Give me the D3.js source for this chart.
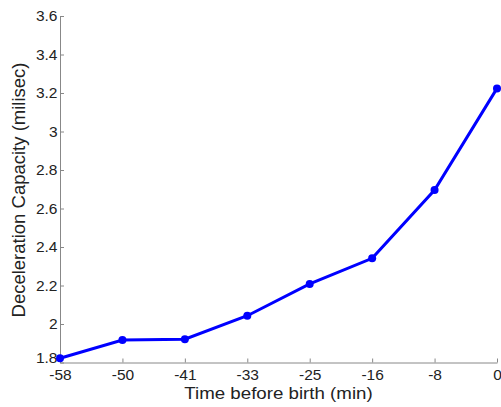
<!DOCTYPE html>
<html><head><meta charset="utf-8">
<script src="https://cdn.jsdelivr.net/npm/d3@7"></script>
<style>body{margin:0;background:#fff}svg{display:block}</style>
</head><body>
<script>
const categories = ["-58","-50","-41","-33","-25","-16","-8","0"];
const values = [1.822, 1.917, 1.921, 2.043, 2.208, 2.341, 2.696, 3.224];
const yTicks = [1.8, 2, 2.2, 2.4, 2.6, 2.8, 3, 3.2, 3.4, 3.6];

const W = 501, H = 407;
const m = {left: 60, right: 4, top: 16, bottom: 44.5};
const svg = d3.select("body").append("svg").attr("width", W).attr("height", H);
const x = d3.scalePoint().domain(categories).range([m.left, W - m.right]);
const y = d3.scaleLinear().domain([1.8, 3.6]).range([H - m.bottom, m.top]);

const font = "'Liberation Sans', Arial, sans-serif";
const axisColor = "#888";

const xAxis = svg.append("g").attr("transform", `translate(0,${H - m.bottom})`)
  .call(d3.axisBottom(x).tickSizeInner(-4).tickSizeOuter(0).tickPadding(6.5));
const yAxis = svg.append("g").attr("transform", `translate(${m.left},0)`)
  .call(d3.axisLeft(y).tickValues(yTicks).tickFormat(d => d3.format("")(+d.toFixed(1))).tickSizeInner(-4).tickSizeOuter(0).tickPadding(2.5));
[xAxis, yAxis].forEach(g => {
  g.select(".domain").attr("stroke", axisColor);
  g.selectAll(".tick line").attr("stroke", axisColor);
  g.selectAll("text").attr("fill", "#222").style("font-family", font).style("font-size", "15.5px");
});
// lowest y label sits just above the first x label, as in the reference
yAxis.selectAll(".tick").filter(d => d === yTicks[0]).select("text").attr("y", -4.5);

svg.append("path").datum(values)
  .attr("fill", "none").attr("stroke", "#0000ff").attr("stroke-width", 3)
  .attr("d", d3.line().x((d, i) => x(categories[i])).y(d => y(d)));
svg.selectAll("circle.pt").data(values).enter().append("circle")
  .attr("class", "pt").attr("cx", (d, i) => x(categories[i])).attr("cy", d => y(d))
  .attr("r", 4).attr("fill", "#0000ff");

svg.append("text").attr("transform", "translate(278.5,399) scale(1.1,1)").attr("text-anchor", "middle")
  .style("font-family", font).style("font-size", "17px").attr("fill", "#222")
  .text("Time before birth (min)");
svg.append("text").attr("transform", "translate(25,190) rotate(-90)").attr("text-anchor", "middle")
  .style("font-family", font).style("font-size", "18.5px").attr("fill", "#222")
  .text("Deceleration Capacity (milisec)");
</script>
</body></html>
